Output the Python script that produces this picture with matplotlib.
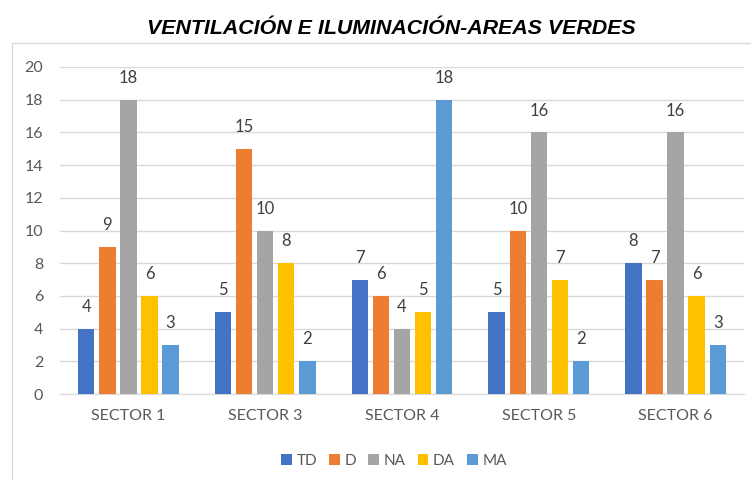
import numpy as np
import matplotlib
matplotlib.use("Agg")
from matplotlib import pyplot as plt
from matplotlib.patches import Rectangle

sectors = ["SECTOR 1", "SECTOR 3", "SECTOR 4", "SECTOR 5", "SECTOR 6"]
series = ["TD", "D", "NA", "DA", "MA"]
td = [4, 5, 7, 5, 8]
d = [9, 15, 6, 10, 7]
na = [18, 10, 4, 16, 16]
da = [6, 8, 5, 7, 6]
ma = [3, 2, 18, 2, 3]
values = [td, d, na, da, ma]
colors = ["#4472C4", "#ED7D31", "#A5A5A5", "#FFC000", "#5B9BD5"]

plt.rcParams["font.family"] = ["Lato", "DejaVu Sans"]

fig = plt.figure(figsize=(7.51, 4.80), dpi=100)
ax = fig.add_axes([60/751, 86/480, 684/751, 327/480])

# chart border (cut at right and bottom like the screenshot)
fig.patches.append(Rectangle((12/751, -0.05), 1.0, (480-43)/480 + 0.05,
                             transform=fig.transFigure, fill=False,
                             edgecolor="#d9d9d9", lw=1.0, clip_on=False))

x = np.arange(len(sectors))
pitch = 0.154
width = 0.12
for i, (name, vals, c) in enumerate(zip(series, values, colors)):
    pos = x + (i - 2) * pitch
    bars = ax.bar(pos, vals, width, color=c, label=name, zorder=3)
    for b, v in zip(bars, vals):
        ax.text(b.get_x() + b.get_width()/2, v + 0.85, str(v), ha="center",
                va="bottom", fontsize=12, color="#404040")

ax.set_xlim(-0.5, len(sectors) - 0.5)
ax.set_ylim(0, 20)
ax.set_yticks(range(0, 21, 2))
ax.set_xticks(x)
ax.set_xticklabels(sectors)
ax.tick_params(length=0, colors="#595959", labelsize=11.5)
ax.tick_params(axis="x", pad=11)
ax.tick_params(axis="y", pad=12)
ax.grid(axis="y", color="#d9d9d9", lw=1.0, zorder=0)
for s in ["top", "right", "left"]:
    ax.spines[s].set_visible(False)
ax.spines["bottom"].set_color("#d9d9d9")

fig.text(391/751, 1 - 28/480, "VENTILACIÓN E ILUMINACIÓN-AREAS VERDES",
         ha="center", va="center", fontsize=15.4, fontweight="bold",
         fontstyle="italic", family="Liberation Sans", color="black")

fig.legend(loc="center", bbox_to_anchor=(394/751, 1 - 461/480), ncol=5,
           frameon=False, fontsize=11, handlelength=0.7, handleheight=0.7,
           handletextpad=0.3, columnspacing=0.8, labelcolor="#595959")

plt.savefig("out.png", dpi=100)
plt.close()
